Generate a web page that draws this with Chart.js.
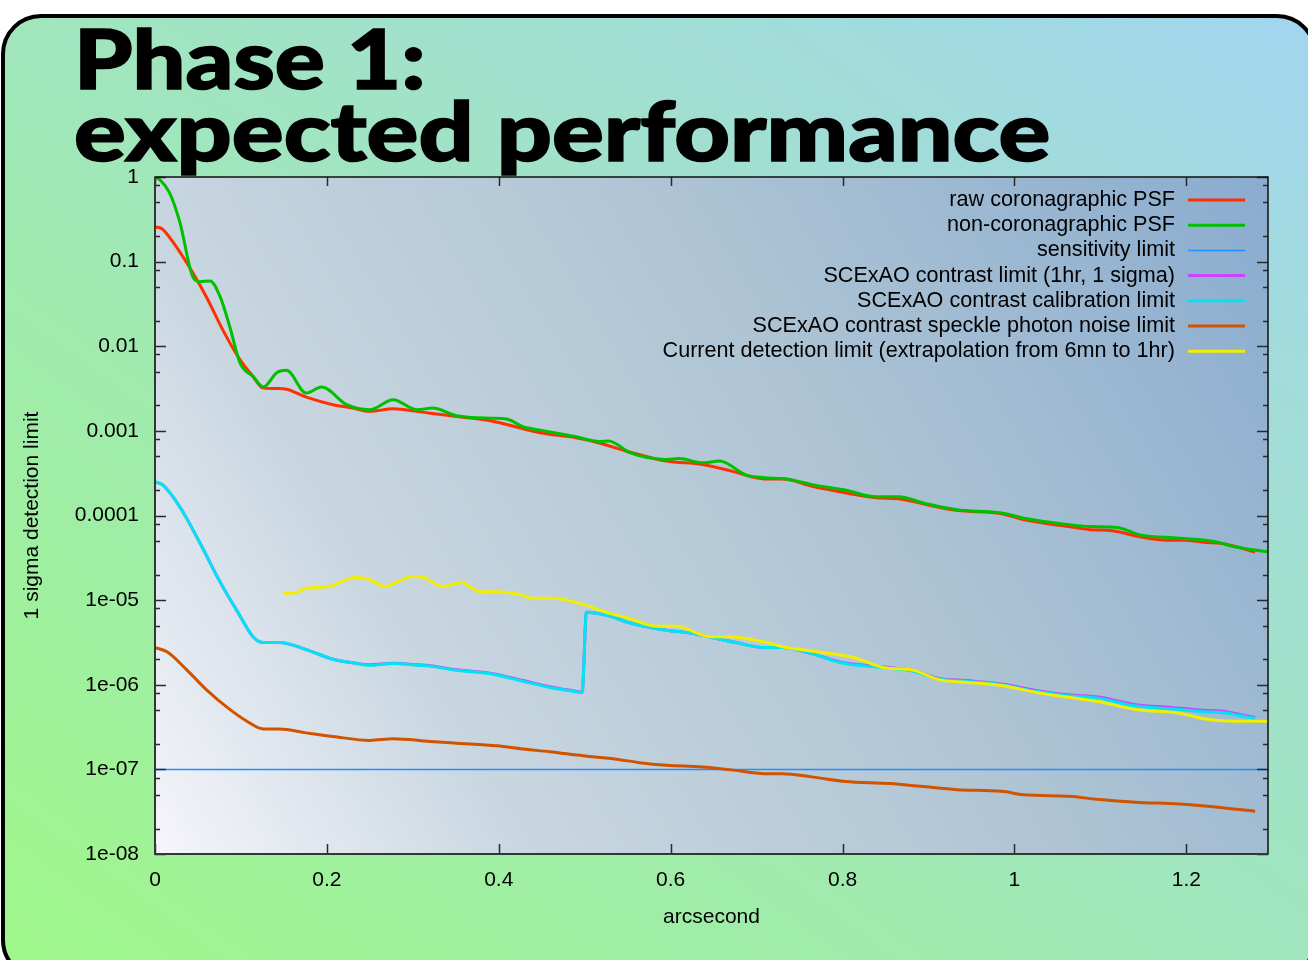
<!DOCTYPE html>
<html>
<head>
<meta charset="utf-8">
<title>Phase 1: expected performance</title>
<script src="https://cdn.jsdelivr.net/npm/chart.js@4.4.1/dist/chart.umd.min.js"></script>
<style>
  html, body { margin: 0; padding: 0; background: #fff; }
  #slide { position: relative; width: 1308px; height: 960px; overflow: hidden; background: #fff; }
  #panel {
    position: absolute; left: 1px; top: 14px; width: 1316px; height: 966px;
    box-sizing: border-box; border: 4px solid #000; border-radius: 40px;
    background: linear-gradient(to top right, #9ff789, #a2d5ef);
  }
  #chart { position: absolute; left: 0; top: 0; }
  .title {
    position: absolute; left: 74px; z-index: 2; color: #000; white-space: nowrap;
    font-family: Lato, "Open Sans", sans-serif; font-weight: 900;
    font-size: 82px; line-height: 82px;
    -webkit-text-stroke: 1.6px #000;
    transform-origin: 0 0;
  }
</style>
</head>
<body>
<div id="slide">
  <div id="panel"></div>
  <canvas id="chart" width="1308" height="960"></canvas>
  <div class="title" style="top:16px; transform:scaleX(1.14)">Phase 1:</div>
  <div class="title" style="top:88px; transform:scaleX(1.18)">expected performance</div>
</div>
<script>
// axis ticks
const xTickValues = [0, 0.2, 0.4, 0.6, 0.8, 1, 1.2];
const xTickLabels = ['0', '0.2', '0.4', '0.6', '0.8', '1', '1.2'];
const yTickValues = [1e-8, 1e-7, 1e-6, 1e-5, 1e-4, 1e-3, 1e-2, 1e-1, 1];
const yTickLabels = ['1e-08', '1e-07', '1e-06', '1e-05', '0.0001', '0.001', '0.01', '0.1', '1'];
const yMinorSteps = [2, 5, 8];

// raw coronagraphic PSF
const rawPsfX = [0, 0.008, 0.021, 0.044, 0.06, 0.079, 0.099, 0.114, 0.126, 0.142, 0.153, 0.176, 0.207, 0.23, 0.25, 0.277, 0.305, 0.32, 0.351, 0.39, 0.448, 0.49, 0.517, 0.549, 0.595, 0.637, 0.673, 0.709, 0.73, 0.766, 0.803, 0.839, 0.865, 0.897, 0.933, 0.985, 1.011, 1.063, 1.088, 1.114, 1.146, 1.177, 1.198, 1.224, 1.24, 1.28];
const rawPsfY = [0.257, 0.245, 0.17, 0.074, 0.038, 0.0155, 0.0069, 0.0044, 0.0032, 0.00316, 0.0031, 0.0025, 0.00204, 0.00186, 0.0017, 0.00182, 0.0017, 0.00162, 0.00148, 0.00132, 0.00095, 0.00083, 0.00072, 0.000575, 0.00044, 0.0004, 0.00033, 0.00027, 0.00027, 0.00022, 0.000186, 0.000162, 0.000158, 0.000135, 0.000115, 0.000105, 8.9e-5, 7.4e-5, 6.8e-5, 6.6e-5, 5.6e-5, 5.1e-5, 5.1e-5, 4.8e-5, 4.7e-5, 3.7e-5];

// non-coronagraphic PSF
const nonCoroX = [0, 0.006, 0.017, 0.029, 0.044, 0.052, 0.064, 0.076, 0.087, 0.099, 0.114, 0.126, 0.142, 0.153, 0.176, 0.194, 0.223, 0.25, 0.277, 0.305, 0.323, 0.351, 0.39, 0.409, 0.428, 0.448, 0.49, 0.517, 0.528, 0.553, 0.595, 0.61, 0.637, 0.657, 0.688, 0.709, 0.735, 0.766, 0.803, 0.839, 0.865, 0.897, 0.933, 0.985, 1.011, 1.063, 1.088, 1.12, 1.146, 1.192, 1.234, 1.255, 1.295];
const nonCoroY = [1.0, 0.92, 0.65, 0.29, 0.066, 0.058, 0.059, 0.038, 0.017, 0.0063, 0.0044, 0.0033, 0.0049, 0.0052, 0.0028, 0.0033, 0.00204, 0.00178, 0.00234, 0.00178, 0.00186, 0.00151, 0.00141, 0.00138, 0.00112, 0.00102, 0.00085, 0.00075, 0.00076, 0.00055, 0.00046, 0.00047, 0.00042, 0.00044, 0.0003, 0.00028, 0.00027, 0.00023, 0.0002, 0.000166, 0.000166, 0.000138, 0.000117, 0.000107, 9.3e-5, 7.8e-5, 7.4e-5, 7.2e-5, 5.9e-5, 5.4e-5, 4.9e-5, 4.3e-5, 3.7e-5];

// sensitivity limit
const sensX = [0, 1.295];
const sensY = [1e-7, 1e-7];

// SCExAO contrast limit and calibration limit (same sampling)
const calibX = [0, 0.009, 0.029, 0.052, 0.076, 0.099, 0.114, 0.126, 0.145, 0.176, 0.207, 0.23, 0.25, 0.277, 0.305, 0.32, 0.351, 0.39, 0.428, 0.459, 0.483, 0.497, 0.502, 0.529, 0.552, 0.595, 0.621, 0.673, 0.709, 0.73, 0.766, 0.798, 0.839, 0.881, 0.912, 0.943, 0.985, 1.026, 1.063, 1.099, 1.141, 1.182, 1.219, 1.24, 1.28];
const contrastY = [2.5e-4, 2.3e-4, 1.26e-4, 4.8e-5, 1.62e-5, 6.5e-6, 3.7e-6, 3.16e-6, 3.16e-6, 2.6e-6, 2.0e-6, 1.82e-6, 1.72e-6, 1.8e-6, 1.72e-6, 1.68e-6, 1.5e-6, 1.37e-6, 1.12e-6, 9.5e-7, 8.6e-7, 8.2e-7, 7.2e-6, 6.5e-6, 5.4e-6, 4.4e-6, 4.1e-6, 3.2e-6, 2.75e-6, 2.75e-6, 2.3e-6, 1.85e-6, 1.65e-6, 1.47e-6, 1.19e-6, 1.12e-6, 1.02e-6, 8.5e-7, 7.6e-7, 7.1e-7, 5.8e-7, 5.4e-7, 5.0e-7, 4.9e-7, 4.1e-7];
const calibY = [2.5e-4, 2.3e-4, 1.26e-4, 4.8e-5, 1.62e-5, 6.5e-6, 3.7e-6, 3.16e-6, 3.16e-6, 2.6e-6, 2.0e-6, 1.82e-6, 1.7e-6, 1.78e-6, 1.7e-6, 1.66e-6, 1.48e-6, 1.35e-6, 1.1e-6, 9.3e-7, 8.5e-7, 8.1e-7, 7.2e-6, 6.5e-6, 5.4e-6, 4.4e-6, 4.1e-6, 3.2e-6, 2.75e-6, 2.75e-6, 2.3e-6, 1.82e-6, 1.62e-6, 1.45e-6, 1.17e-6, 1.1e-6, 1.0e-6, 8.3e-7, 7.4e-7, 6.9e-7, 5.6e-7, 5.2e-7, 4.8e-7, 4.7e-7, 4.0e-7];

// speckle photon noise limit
const speckleX = [0, 0.014, 0.037, 0.06, 0.084, 0.107, 0.126, 0.145, 0.176, 0.207, 0.25, 0.277, 0.32, 0.351, 0.398, 0.428, 0.459, 0.498, 0.537, 0.564, 0.595, 0.637, 0.673, 0.709, 0.73, 0.766, 0.803, 0.855, 0.891, 0.933, 0.985, 1.011, 1.063, 1.099, 1.141, 1.192, 1.234, 1.28];
const speckleY = [2.75e-6, 2.45e-6, 1.5e-6, 8.7e-7, 5.4e-7, 3.7e-7, 3.0e-7, 3.0e-7, 2.7e-7, 2.45e-7, 2.2e-7, 2.3e-7, 2.14e-7, 2.04e-7, 1.9e-7, 1.74e-7, 1.62e-7, 1.45e-7, 1.32e-7, 1.2e-7, 1.12e-7, 1.07e-7, 9.8e-8, 8.9e-8, 8.9e-8, 8.1e-8, 7.2e-8, 6.8e-8, 6.3e-8, 5.75e-8, 5.5e-8, 5.0e-8, 4.8e-8, 4.4e-8, 4.1e-8, 3.9e-8, 3.6e-8, 3.2e-8];

// current detection limit (extrapolated)
const currentX = [0.149, 0.165, 0.176, 0.203, 0.215, 0.235, 0.25, 0.267, 0.285, 0.299, 0.312, 0.335, 0.357, 0.378, 0.398, 0.424, 0.438, 0.463, 0.498, 0.525, 0.549, 0.585, 0.606, 0.647, 0.668, 0.709, 0.735, 0.777, 0.813, 0.85, 0.88, 0.912, 0.943, 0.985, 1.026, 1.063, 1.099, 1.141, 1.192, 1.224, 1.255, 1.295];
const currentY = [1.2e-5, 1.23e-5, 1.38e-5, 1.45e-5, 1.62e-5, 1.86e-5, 1.74e-5, 1.45e-5, 1.7e-5, 1.9e-5, 1.86e-5, 1.45e-5, 1.62e-5, 1.26e-5, 1.26e-5, 1.17e-5, 1.05e-5, 1.05e-5, 8.9e-6, 7.2e-6, 6.2e-6, 4.9e-6, 4.9e-6, 3.7e-6, 3.7e-6, 3.2e-6, 2.75e-6, 2.4e-6, 2.1e-6, 1.58e-6, 1.5e-6, 1.15e-6, 1.07e-6, 9.8e-7, 8.1e-7, 7.1e-7, 6.3e-7, 5.1e-7, 4.6e-7, 3.9e-7, 3.7e-7, 3.7e-7];

const toPoints = (xs, ys) => xs.map((x, i) => ({ x: x, y: ys[i] }));

const seriesDefs = [
  { label: 'raw coronagraphic PSF', x: rawPsfX, y: rawPsfY, color: '#ff3000', width: 3 },
  { label: 'non-coronagraphic PSF', x: nonCoroX, y: nonCoroY, color: '#00c000', width: 3 },
  { label: 'sensitivity limit', x: sensX, y: sensY, color: '#1e90ff', width: 1.5 },
  { label: 'SCExAO contrast limit (1hr, 1 sigma)', x: calibX, y: contrastY, color: '#cc44ff', width: 3 },
  { label: 'SCExAO contrast calibration limit', x: calibX, y: calibY, color: '#00e4f4', width: 3 },
  { label: 'SCExAO contrast speckle photon noise limit', x: speckleX, y: speckleY, color: '#d05400', width: 3 },
  { label: 'Current detection limit (extrapolation from 6mn to 1hr)', x: currentX, y: currentY, color: '#f2ee00', width: 3 }
];

// gradient fill behind the plot area
const plotBackground = {
  id: 'plotBackground',
  beforeDraw(chart) {
    const { ctx, chartArea: a } = chart;
    const g = ctx.createLinearGradient(a.left, a.bottom, a.right, a.top);
    g.addColorStop(0, '#f6f5fb');
    g.addColorStop(0.25, '#c8d6e0');
    g.addColorStop(0.6, '#aec4d4');
    g.addColorStop(1, '#8aaccf');
    ctx.save();
    ctx.fillStyle = g;
    ctx.fillRect(a.left, a.top, a.right - a.left, a.bottom - a.top);
    ctx.restore();
  }
};

// gnuplot style frame with inward ticks on all four sides
const frameTicks = {
  id: 'frameTicks',
  afterDatasetsDraw(chart) {
    const { ctx, chartArea: a, scales: { x, y } } = chart;
    ctx.save();
    ctx.strokeStyle = '#2a2a2a';
    ctx.lineWidth = 1.5;
    ctx.beginPath();
    yTickValues.forEach(v => {
      const p = Math.round(y.getPixelForValue(v)) + 0.5;
      ctx.moveTo(a.left, p); ctx.lineTo(a.left + 11, p);
      ctx.moveTo(a.right, p); ctx.lineTo(a.right - 11, p);
    });
    yTickValues.slice(0, -1).forEach(v => {
      yMinorSteps.forEach(m => {
        const p = Math.round(y.getPixelForValue(v * m)) + 0.5;
        ctx.moveTo(a.left, p); ctx.lineTo(a.left + 5, p);
        ctx.moveTo(a.right, p); ctx.lineTo(a.right - 5, p);
      });
    });
    xTickValues.forEach(v => {
      const p = Math.round(x.getPixelForValue(v)) + 0.5;
      ctx.moveTo(p, a.bottom); ctx.lineTo(p, a.bottom - 10);
      ctx.moveTo(p, a.top); ctx.lineTo(p, a.top + 9);
    });
    ctx.stroke();
    ctx.lineWidth = 1.5;
    ctx.strokeStyle = '#111';
    ctx.strokeRect(a.left, a.top, a.right - a.left, a.bottom - a.top);
    ctx.lineWidth = 2;
    ctx.strokeStyle = '#2c3a32';
    ctx.beginPath();
    ctx.moveTo(a.left, a.top); ctx.lineTo(a.left, a.bottom); ctx.lineTo(a.right, a.bottom);
    ctx.stroke();
    ctx.restore();
  }
};

// key in the top right corner, text right aligned with the line sample after it
const keyBox = {
  id: 'keyBox',
  afterDraw(chart) {
    const { ctx, chartArea: a } = chart;
    ctx.save();
    ctx.font = '21.6px "Liberation Sans", Arial, sans-serif';
    ctx.textAlign = 'right';
    ctx.textBaseline = 'middle';
    chart.data.datasets.forEach((ds, i) => {
      const yy = a.top + 23 + i * 25.2;
      ctx.fillStyle = '#000';
      ctx.fillText(ds.label, a.right - 93, yy);
      ctx.strokeStyle = ds.borderColor;
      ctx.lineWidth = ds.borderWidth;
      ctx.beginPath();
      ctx.moveTo(a.right - 80, yy);
      ctx.lineTo(a.right - 23, yy);
      ctx.stroke();
    });
    ctx.restore();
  }
};

Chart.defaults.font.family = '"Liberation Sans", Arial, sans-serif';
Chart.defaults.font.size = 21;
Chart.defaults.color = '#000';

const ctx = document.getElementById('chart').getContext('2d');
const chart = new Chart(ctx, {
  type: 'line',
  data: {
    datasets: seriesDefs.map((s, i) => ({
      label: s.label,
      data: toPoints(s.x, s.y),
      borderColor: s.color,
      backgroundColor: s.color,
      borderWidth: s.width,
      pointRadius: 0,
      fill: false,
      cubicInterpolationMode: 'monotone',
      order: seriesDefs.length - i
    }))
  },
  options: {
    responsive: false,
    animation: false,
    devicePixelRatio: 1,
    layout: { padding: { top: 177, right: 40, left: 0, bottom: 0 } },
    scales: {
      x: {
        type: 'linear',
        min: 0,
        max: 1.295,
        afterFit(scale) { scale.height = 106; },
        afterBuildTicks(scale) { scale.ticks = xTickValues.map(v => ({ value: v })); },
        grid: { display: false, drawTicks: false },
        border: { display: false },
        ticks: {
          autoSkip: false,
          maxRotation: 0,
          padding: 14,
          callback: (value) => xTickLabels[xTickValues.indexOf(value)]
        },
        title: { display: true, text: 'arcsecond', font: { size: 21 }, padding: { top: 0, bottom: 30 } }
      },
      y: {
        type: 'logarithmic',
        min: 1e-8,
        max: 1,
        afterFit(scale) { scale.width = 155; },
        afterBuildTicks(scale) { scale.ticks = yTickValues.map(v => ({ value: v })); },
        grid: { display: false, drawTicks: false },
        border: { display: false },
        ticks: {
          autoSkip: false,
          padding: 16,
          callback: (value) => yTickLabels[yTickValues.indexOf(value)]
        },
        title: { display: true, text: '1 sigma detection limit', font: { size: 21 }, padding: { top: 20, bottom: 0 } }
      }
    },
    plugins: {
      legend: { display: false },
      tooltip: { enabled: false }
    }
  },
  plugins: [plotBackground, frameTicks, keyBox]
});
</script>
</body>
</html>
